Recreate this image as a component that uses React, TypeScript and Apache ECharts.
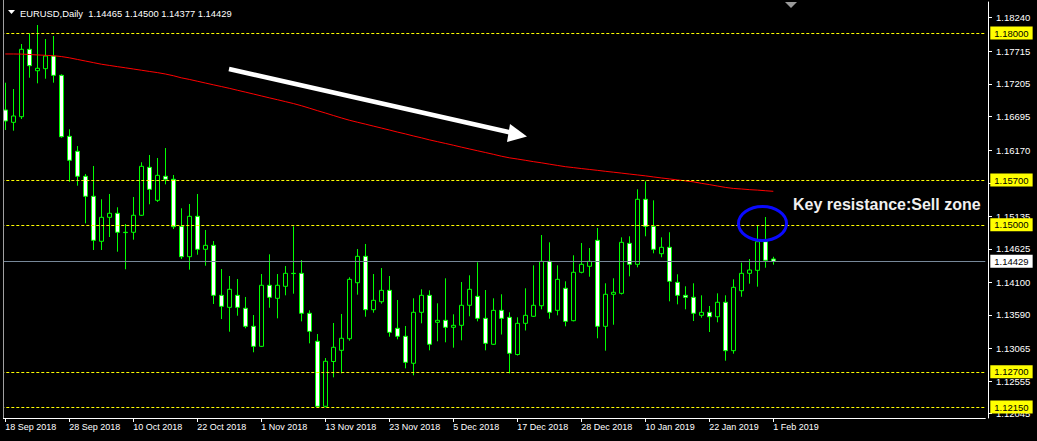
import React, { useEffect, useRef } from 'react';
import * as echarts from 'echarts';

// Trading days shown on the chart (one candle each)
const dates = [
  '18 Sep 2018', '19 Sep 2018', '20 Sep 2018', '21 Sep 2018', '24 Sep 2018', '25 Sep 2018', '26 Sep 2018', '27 Sep 2018', '28 Sep 2018',
  '1 Oct 2018', '2 Oct 2018', '3 Oct 2018', '4 Oct 2018', '5 Oct 2018', '8 Oct 2018', '9 Oct 2018', '10 Oct 2018', '11 Oct 2018', '12 Oct 2018',
  '15 Oct 2018', '16 Oct 2018', '17 Oct 2018', '18 Oct 2018', '19 Oct 2018', '22 Oct 2018', '23 Oct 2018', '24 Oct 2018', '25 Oct 2018',
  '26 Oct 2018', '29 Oct 2018', '30 Oct 2018', '31 Oct 2018',
  '1 Nov 2018', '2 Nov 2018', '5 Nov 2018', '6 Nov 2018', '7 Nov 2018', '8 Nov 2018', '9 Nov 2018', '12 Nov 2018', '13 Nov 2018', '14 Nov 2018',
  '15 Nov 2018', '16 Nov 2018', '19 Nov 2018', '20 Nov 2018', '21 Nov 2018', '22 Nov 2018', '23 Nov 2018', '26 Nov 2018', '27 Nov 2018',
  '28 Nov 2018', '29 Nov 2018', '30 Nov 2018',
  '3 Dec 2018', '4 Dec 2018', '5 Dec 2018', '6 Dec 2018', '7 Dec 2018', '10 Dec 2018', '11 Dec 2018', '12 Dec 2018', '13 Dec 2018', '14 Dec 2018',
  '17 Dec 2018', '18 Dec 2018', '19 Dec 2018', '20 Dec 2018', '21 Dec 2018', '24 Dec 2018', '26 Dec 2018', '27 Dec 2018', '28 Dec 2018', '31 Dec 2018',
  '2 Jan 2019', '3 Jan 2019', '4 Jan 2019', '7 Jan 2019', '8 Jan 2019', '9 Jan 2019', '10 Jan 2019', '11 Jan 2019', '14 Jan 2019', '15 Jan 2019',
  '16 Jan 2019', '17 Jan 2019', '18 Jan 2019', '21 Jan 2019', '22 Jan 2019', '23 Jan 2019', '24 Jan 2019', '25 Jan 2019', '28 Jan 2019',
  '29 Jan 2019', '30 Jan 2019', '31 Jan 2019', '1 Feb 2019',
];

const opens = [
  1.16796, 1.16603, 1.16691, 1.17745, 1.17410, 1.17442, 1.17640, 1.17338, 1.16384, 1.16150,
  1.15759, 1.15446, 1.14742, 1.15117, 1.15180, 1.14883, 1.14883, 1.15149, 1.15899, 1.15383,
  1.15759, 1.15712, 1.14976, 1.14501, 1.15133, 1.14617, 1.14679, 1.13897, 1.13709, 1.13897,
  1.13694, 1.13412, 1.13099, 1.14054, 1.13850, 1.14038, 1.14241, 1.14241, 1.13616, 1.13178,
  1.12161, 1.12862, 1.13037, 1.13218, 1.14094, 1.14507, 1.13672, 1.13797, 1.13975, 1.13381,
  1.13256, 1.12834, 1.13631, 1.13897, 1.13475, 1.13506, 1.13397, 1.13428, 1.13741, 1.13881,
  1.13537, 1.13131, 1.13662, 1.13553, 1.12971, 1.13459, 1.13569, 1.13734, 1.14429, 1.13662,
  1.14007, 1.13500, 1.14257, 1.14351, 1.14757, 1.13412, 1.13913, 1.13928, 1.14710, 1.14382,
  1.15399, 1.14976, 1.14548, 1.14648, 1.14100, 1.13897, 1.13866, 1.13584, 1.13631, 1.13562,
  1.13788, 1.13031, 1.13969, 1.14241, 1.14288, 1.14736, 1.14465,
];

const closes = [
  1.16624, 1.16702, 1.17745, 1.17489, 1.17448, 1.17640, 1.17338, 1.16378, 1.16009, 1.15759,
  1.15446, 1.14757, 1.15117, 1.15180, 1.14883, 1.14878, 1.15149, 1.15915, 1.15555, 1.15774,
  1.15712, 1.14970, 1.14501, 1.15133, 1.14617, 1.14679, 1.13897, 1.13725, 1.13991, 1.13709,
  1.13412, 1.13099, 1.14054, 1.13866, 1.14054, 1.14241, 1.14237, 1.13616, 1.13334, 1.12161,
  1.12865, 1.13084, 1.13225, 1.14147, 1.14507, 1.13672, 1.13819, 1.13975, 1.13318, 1.13256,
  1.12849, 1.13631, 1.13897, 1.13131, 1.13506, 1.13397, 1.13428, 1.13741, 1.13991, 1.13537,
  1.13146, 1.13662, 1.13537, 1.12990, 1.13459, 1.13584, 1.13741, 1.14429, 1.13631, 1.14147,
  1.13490, 1.14257, 1.14382, 1.14429, 1.13412, 1.13913, 1.13944, 1.14726, 1.14382, 1.15399,
  1.14976, 1.14617, 1.14648, 1.14116, 1.13897, 1.13866, 1.13616, 1.13631, 1.13562, 1.13788,
  1.13031, 1.14022, 1.14241, 1.14293, 1.14736, 1.14445, 1.14429,
];

const lows = [
  1.16483, 1.16472, 1.16655, 1.17301, 1.17213, 1.17285, 1.17223, 1.16362, 1.15674, 1.15612,
  1.15023, 1.14606, 1.14606, 1.14809, 1.14579, 1.14304, 1.14767, 1.15138, 1.15321, 1.15357,
  1.15633, 1.14934, 1.14465, 1.14298, 1.14532, 1.14360, 1.13761, 1.13526, 1.13328, 1.13578,
  1.13381, 1.13006, 1.13088, 1.13703, 1.13537, 1.13897, 1.13922, 1.13490, 1.13146, 1.12145,
  1.12145, 1.12614, 1.12677, 1.13187, 1.13907, 1.13562, 1.13625, 1.13766, 1.13250, 1.13209,
  1.12755, 1.12646, 1.13459, 1.13037, 1.13178, 1.13162, 1.13078, 1.13193, 1.13569, 1.13490,
  1.13037, 1.13120, 1.13284, 1.12677, 1.12955, 1.13347, 1.13558, 1.13678, 1.13531, 1.13584,
  1.13412, 1.13490, 1.14241, 1.14188, 1.13225, 1.13031, 1.13437, 1.13910, 1.14194, 1.14335,
  1.14820, 1.14554, 1.14492, 1.13803, 1.13756, 1.13678, 1.13495, 1.13547, 1.13323, 1.13475,
  1.12874, 1.12984, 1.13875, 1.14079, 1.14032, 1.14329, 1.14377,
];

const highs = [
  1.17223, 1.17124, 1.17828, 1.17995, 1.18125, 1.17906, 1.17953, 1.17354, 1.16494, 1.16232,
  1.15795, 1.15920, 1.15399, 1.15482, 1.15274, 1.15012, 1.15435, 1.15978, 1.16092, 1.16045,
  1.16201, 1.15779, 1.15258, 1.15325, 1.15482, 1.14919, 1.14746, 1.14308, 1.14199, 1.14152,
  1.13871, 1.13589, 1.14230, 1.14538, 1.14230, 1.14355, 1.14976, 1.14449, 1.13662, 1.13292,
  1.12916, 1.13464, 1.13605, 1.14179, 1.14621, 1.14700, 1.14230, 1.14324, 1.14199, 1.13824,
  1.13417, 1.13850, 1.13991, 1.13975, 1.13772, 1.14163, 1.13600, 1.14105, 1.14210, 1.14413,
  1.13980, 1.13850, 1.13913, 1.13631, 1.13553, 1.14007, 1.14366, 1.14840, 1.14726, 1.14366,
  1.14116, 1.14523, 1.14715, 1.14637, 1.14950, 1.14085, 1.14163, 1.14804, 1.14820, 1.15555,
  1.15680, 1.15383, 1.14804, 1.14883, 1.14226, 1.14038, 1.14085, 1.13897, 1.13730, 1.13928,
  1.13897, 1.14147, 1.14407, 1.14465, 1.14992, 1.15122, 1.14500,
];

// Red moving average
const maValues = [
  1.17672, 1.17672, 1.17670, 1.17664, 1.17657, 1.17651, 1.17645, 1.17632, 1.17612, 1.17587,
  1.17562, 1.17537, 1.17512, 1.17493, 1.17474, 1.17456, 1.17437, 1.17418, 1.17399, 1.17381,
  1.17359, 1.17332, 1.17299, 1.17274, 1.17246, 1.17218, 1.17190, 1.17163, 1.17135, 1.17105,
  1.17076, 1.17046, 1.17016, 1.16986, 1.16957, 1.16927, 1.16897, 1.16863, 1.16825, 1.16786,
  1.16749, 1.16710, 1.16672, 1.16636, 1.16605, 1.16575, 1.16544, 1.16514, 1.16483, 1.16451,
  1.16422, 1.16390, 1.16361, 1.16329, 1.16301, 1.16273, 1.16245, 1.16215, 1.16187, 1.16159,
  1.16131, 1.16103, 1.16073, 1.16048, 1.16029, 1.16009, 1.15988, 1.15970, 1.15949, 1.15929,
  1.15909, 1.15895, 1.15880, 1.15866, 1.15852, 1.15837, 1.15823, 1.15809, 1.15794, 1.15780,
  1.15766, 1.15749, 1.15733, 1.15718, 1.15702, 1.15688, 1.15672, 1.15649, 1.15629, 1.15607,
  1.15585, 1.15569, 1.15560, 1.15550, 1.15543, 1.15533, 1.15524,
];

const levels = [1.18, 1.157, 1.15, 1.127, 1.1215];
const lastPrice = 1.14429;
const yTicks = [1.1824, 1.17715, 1.17205, 1.16695, 1.1617, 1.15655, 1.15135, 1.14625, 1.141, 1.1359, 1.13065, 1.12555, 1.12045];
const headerText = 'EURUSD,Daily  1.14465 1.14500 1.14377 1.14429';
const noteText = 'Key resistance:Sell zone';
const futureSlots = 26;

const FONT = '"Liberation Sans", Arial, sans-serif';

export default function App() {
  const ref = useRef<HTMLDivElement>(null);

  useEffect(() => {
    if (!ref.current) return;
    const chart = echarts.init(ref.current, undefined, { renderer: 'svg' });

    const categories = dates.concat(Array.from({ length: futureSlots }, (_, i) => '__' + i));
    const candles = opens.map((o, i) => [o, closes[i], lows[i], highs[i]]);
    const showTick = (index: number) => index % 8 === 0 && index < dates.length;

    const levelLabel = (text: string, bg: string) => ({
      show: true,
      position: 'end',
      distance: 5,
      formatter: text,
      color: '#000000',
      backgroundColor: bg,
      padding: [2, 4, 1, 4],
      fontSize: 9.5,
      fontFamily: FONT,
    });

    const option: any = {
      animation: false,
      backgroundColor: '#000000',
      grid: { left: 1.3, right: 51.7, top: 2, bottom: 23, containLabel: false },
      xAxis: {
        type: 'category',
        data: categories,
        boundaryGap: true,
        axisLine: { show: true, lineStyle: { color: '#ffffff', width: 1 } },
        axisTick: { show: true, alignWithLabel: true, interval: (i: number) => showTick(i), length: 4, lineStyle: { color: '#ffffff' } },
        axisLabel: {
          interval: (i: number) => showTick(i),
          formatter: (v: string) => (v.startsWith('__') ? '' : v),
          align: 'left',
          color: '#ffffff',
          fontSize: 9,
          fontFamily: FONT,
          margin: 4,
        },
        splitLine: { show: false },
      },
      yAxis: {
        type: 'value',
        position: 'right',
        offset: 2.7,
        min: 1.11978,
        max: 1.18485,
        scale: true,
        axisLine: { show: true, lineStyle: { color: '#ffffff', width: 1 } },
        axisTick: { show: true, length: 4, lineStyle: { color: '#ffffff' }, customValues: yTicks },
        axisLabel: {
          customValues: yTicks,
          formatter: (v: number) => v.toFixed(5),
          color: '#ffffff',
          fontSize: 9.5,
          fontFamily: FONT,
          margin: 8,
        },
        splitLine: { show: false },
      },
      series: [
        {
          type: 'candlestick',
          data: candles,
          barWidth: 5,
          itemStyle: {
            color: '#000000',
            color0: '#ffffff',
            borderColor: '#00ff00',
            borderColor0: '#00ff00',
            borderWidth: 1,
          },
          z: 3,
        },
        {
          type: 'line',
          data: maValues,
          symbol: 'none',
          lineStyle: { color: '#ff0000', width: 1 },
          itemStyle: { color: '#ff0000' },
          z: 4,
          markLine: {
            silent: true,
            symbol: 'none',
            animation: false,
            precision: 5,
            data: [
              ...levels.map((v) => ({
                yAxis: v,
                lineStyle: { color: '#ffff00', type: [3, 2], width: 1 },
                label: levelLabel(v.toFixed(5), '#ffff00'),
              })),
              {
                yAxis: lastPrice,
                lineStyle: { color: '#778899', type: 'solid', width: 1 },
                label: levelLabel(lastPrice.toFixed(5), '#ffffff'),
              },
            ],
          },
        },
      ],
      graphic: [
        { type: 'rect', shape: { x: 0, y: 0, width: 3, height: 441 }, style: { fill: '#000000' }, z: 100 },
        { type: 'line', shape: { x1: 3.5, y1: 0, x2: 3.5, y2: 418 }, style: { stroke: '#a0a0a0', lineWidth: 1 }, z: 101 },
        { type: 'polygon', shape: { points: [[8, 10], [15, 10], [11.5, 14]] }, style: { fill: '#ffffff' }, z: 101 },
        {
          type: 'text',
          x: 20,
          y: 13,
          style: { text: headerText, fill: '#ffffff', font: `9.4px ${FONT}`, verticalAlign: 'middle' },
          z: 101,
        },
        { type: 'polygon', shape: { points: [[785, 2], [797, 2], [791, 8]] }, style: { fill: '#9a9a9a' }, z: 101 },
        { type: 'line', shape: { x1: 229, y1: 69, x2: 515, y2: 133.5 }, style: { stroke: '#ffffff', lineWidth: 4.5 }, z: 101 },
        { type: 'polygon', shape: { points: [[510, 124], [527, 136.5], [507, 142]] }, style: { fill: '#ffffff' }, z: 101 },
        {
          type: 'ellipse',
          shape: { cx: 762.5, cy: 223.5, rx: 24, ry: 17 },
          style: { fill: 'none', stroke: '#0a0aff', lineWidth: 3 },
          z: 101,
        },
        {
          type: 'text',
          x: 793,
          y: 204,
          style: { text: noteText, fill: '#f0f0f0', font: `bold 16px ${FONT}`, verticalAlign: 'middle' },
          z: 101,
        },
      ],
    };

    chart.setOption(option);
    return () => chart.dispose();
  }, []);

  return (
    <div
      ref={ref}
      style={{ position: 'fixed', left: 0, top: 0, width: 1037, height: 441, background: '#000' }}
    />
  );
}
